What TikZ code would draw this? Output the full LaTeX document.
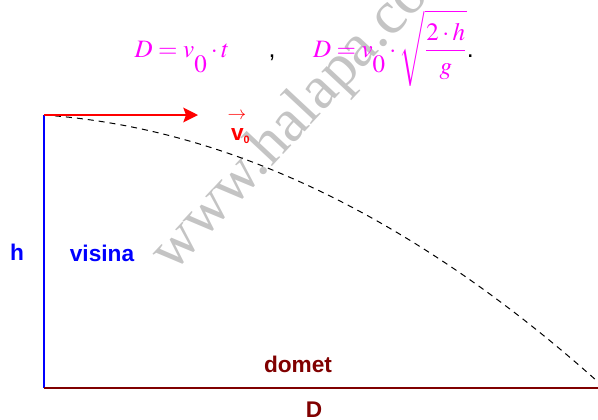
\documentclass[tikz,border=0pt]{standalone}
\usepackage{mathptmx}
\usepackage[no-math]{fontspec}
\setmainfont{Liberation Sans}
\newfontfamily\markfont{Liberation Serif}
\usetikzlibrary{arrows.meta}
\definecolor{ThrowBlue}{HTML}{0000FF}
\definecolor{ThrowRed}{HTML}{FF0000}
\definecolor{ThrowBrown}{HTML}{800000}
\definecolor{ThrowPink}{HTML}{FF00FF}
\definecolor{ThrowMark}{HTML}{C4C4C4}
\newcommand{\lowzero}{\raisebox{-9pt}{$\textstyle 0$}}
\tikzset{
  every node/.style={inner sep=0pt, outer sep=0pt},
  tag/.style={font=\fontsize{17}{20}\selectfont\bfseries},
  formula/.style={font=\fontsize{18.75}{22}\selectfont, text=ThrowPink},
  watermark/.style={font=\markfont\fontsize{46}{52}\selectfont, text=ThrowMark},
  wall/.style={draw=ThrowBlue, line width=1.5pt},
  ground/.style={draw=ThrowBrown, line width=1.5pt},
  launch/.style={-{Stealth[length=11pt,width=11pt,inset=2pt]}, draw=ThrowRed, line width=1.5pt},
  trajectory/.style={draw=black, line width=0.75pt, dash pattern=on 4.5pt off 3.75pt},
}
\begin{document}
\begin{tikzpicture}[x=0.75pt,y=-0.75pt]
  \useasboundingbox (0,0) rectangle (598,419);
  % Watermark behind everything
  \node[watermark, rotate=47, anchor=base west] (mark) at (173,273) {www.halapa.com};
  % Formulas
  \node[formula, anchor=base] (ftime) at (182,57) {$D = v_{\lowzero}\cdot t$};
  \node[font=\fontsize{18.75}{22}\selectfont, anchor=base] (comma) at (272,57) {,};
  \node[formula, anchor=base west] (froot) at (313,57)
    {$\displaystyle D = v_{\lowzero}\cdot\sqrt{\frac{2\cdot h}{g}}$\textcolor{black}{.}};
  % Corners of the throw
  \coordinate (top) at (44,115);
  \coordinate (foot) at (44,388);
  \coordinate (land) at (598,388);
  \coordinate (tip) at (198,115);
  \coordinate (hit) at (597,381);
  \draw[wall] (top) -- (foot);
  \draw[ground] (foot) -- (land);
  \draw[trajectory] (top) .. controls (228,128) and (413,217) .. (hit);
  \draw[launch] (top) -- (tip);
  % Labels
  \node[text=ThrowRed, font=\fontsize{14}{14}\selectfont] (arrowmark) at (237,116) {$\rightarrow$};
  \node[tag, text=ThrowRed, anchor=base west] (speed) at (231,140)
    {v\textsubscript{\fontsize{8}{9}\selectfont 0}};
  \node[tag, text=ThrowBlue] (hlabel) at (17,252) {h};
  \node[tag, text=ThrowBlue] (height) at (102,253) {visina};
  \node[tag, text=ThrowBrown] (range) at (298,364) {domet};
  \node[tag, text=ThrowBrown] (dlabel) at (314,410) {D};
\end{tikzpicture}
\end{document}
